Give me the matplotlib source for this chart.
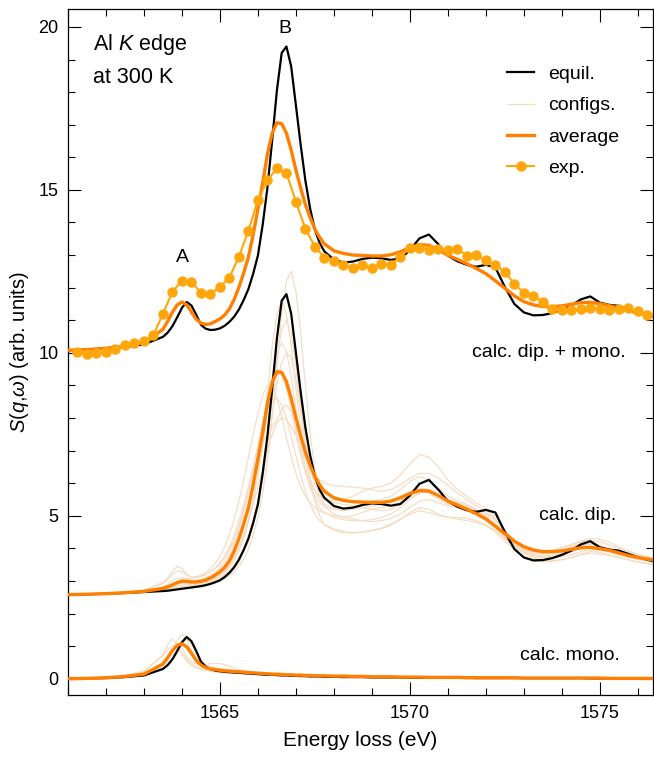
import numpy as np
import matplotlib
matplotlib.use("Agg")
from matplotlib import pyplot as plt
from matplotlib.ticker import MultipleLocator

plt.rcParams['font.family'] = ['Liberation Sans', 'DejaVu Sans']
plt.rcParams['mathtext.fontset'] = 'custom'
plt.rcParams['mathtext.rm'] = 'Liberation Sans'
plt.rcParams['mathtext.it'] = 'Liberation Sans:italic'

# energy grid of the calculated spectra, finer around the edge
energy = np.concatenate([np.arange(1561.0, 1563.01, 0.5),
                         np.arange(1563.5, 1567.76, 0.125),
                         np.arange(1568.0, 1576.51, 0.25)])

# dipole part, as drawn (shifted up by 2.5)
dip_equil = [2.58, 2.59, 2.61, 2.63, 2.66,
             2.69, 2.70, 2.72, 2.74, 2.76, 2.78, 2.80, 2.82, 2.84, 2.87,
             2.91, 2.96, 3.02, 3.12, 3.25, 3.42, 3.65, 3.95, 4.30, 4.78,
             5.35, 6.30, 7.45, 8.90, 10.45, 11.6, 11.8, 11.2, 10.0, 8.8,
             7.70, 6.85, 6.20, 5.80, 5.55,
             5.30, 5.22, 5.25, 5.33, 5.38, 5.36, 5.31, 5.36, 5.62, 5.98, 6.10, 5.80,
             5.45, 5.28, 5.17, 5.12, 5.18, 5.10, 4.50, 3.98, 3.72, 3.63, 3.64, 3.70,
             3.80, 3.93, 4.12, 4.22, 4.03, 3.96, 3.93, 3.83, 3.73, 3.65, 3.58]
dip_avg = [2.58, 2.59, 2.61, 2.64, 2.68,
           2.77, 2.82, 2.88, 2.95, 2.99, 2.99, 2.97, 2.97, 2.99, 3.03,
           3.09, 3.18, 3.28, 3.42, 3.62, 3.92, 4.30, 4.75, 5.25, 5.95,
           6.75, 7.55, 8.45, 9.10, 9.42, 9.40, 9.12, 8.60, 8.00, 7.45,
           6.95, 6.55, 6.20, 5.95, 5.75,
           5.55, 5.47, 5.43, 5.42, 5.41, 5.41, 5.45, 5.55, 5.68, 5.77, 5.76, 5.62,
           5.45, 5.33, 5.20, 5.06, 4.90, 4.68, 4.45, 4.22, 4.05, 3.95, 3.90, 3.90,
           3.92, 3.97, 4.02, 4.03, 3.99, 3.94, 3.86, 3.78, 3.72, 3.67, 3.63]

# monopole part
mono_equil = [0.0, 0.01, 0.02, 0.05, 0.10,
              0.30, 0.42, 0.60, 0.85, 1.12, 1.28, 1.15, 0.85, 0.52, 0.37,
              0.29, 0.25, 0.23, 0.21, 0.20, 0.19, 0.18, 0.17, 0.16, 0.15,
              0.14, 0.13, 0.12, 0.12, 0.11, 0.10, 0.10, 0.09, 0.09, 0.08,
              0.08, 0.07, 0.07, 0.07, 0.06,
              0.06, 0.05, 0.05, 0.05, 0.04, 0.04, 0.04, 0.04, 0.03, 0.03, 0.03, 0.03,
              0.03, 0.03, 0.03, 0.02, 0.02, 0.02, 0.02, 0.02, 0.02, 0.02, 0.02, 0.02,
              0.02, 0.02, 0.02, 0.01, 0.01, 0.01, 0.01, 0.01, 0.01, 0.01, 0.01]
mono_avg = [0.0, 0.01, 0.03, 0.07, 0.14,
            0.45, 0.65, 0.87, 1.02, 1.07, 0.98, 0.78, 0.56, 0.42, 0.34,
            0.30, 0.28, 0.26, 0.24, 0.23, 0.22, 0.21, 0.20, 0.19, 0.18,
            0.17, 0.16, 0.15, 0.14, 0.14, 0.13, 0.12, 0.12, 0.11, 0.11,
            0.10, 0.10, 0.09, 0.09, 0.09,
            0.08, 0.08, 0.07, 0.07, 0.06, 0.06, 0.06, 0.05, 0.05, 0.05, 0.04, 0.04,
            0.04, 0.04, 0.03, 0.03, 0.03, 0.03, 0.03, 0.03, 0.02, 0.02, 0.02, 0.02,
            0.02, 0.02, 0.02, 0.02, 0.02, 0.01, 0.01, 0.01, 0.01, 0.01, 0.01]

# single configurations, dipole part from 1563 eV on (energy[4:])
dip_configs = [
    [2.66, 2.70, 2.71, 2.73, 2.75, 2.77, 2.79, 2.81, 2.83, 2.85, 2.88,
     2.91, 2.95, 3.00, 3.07, 3.16, 3.28, 3.45, 3.68, 3.98, 4.40,
     4.95, 5.70, 6.70, 8.00, 9.60, 11.2, 12.2, 12.5, 11.9, 10.6,
     9.00, 7.50, 6.40, 5.70, 5.30,
     5.05, 4.95, 5.00, 5.10, 5.20, 5.25, 5.30, 5.45, 5.70, 5.85, 5.80, 5.60,
     5.40, 5.25, 5.15, 5.10, 5.05, 5.00, 4.60, 4.15, 3.85, 3.70, 3.65, 3.70,
     3.78, 3.90, 4.05, 4.15, 4.05, 3.95, 3.90, 3.80, 3.70, 3.62, 3.55],
    [2.67, 2.72, 2.74, 2.77, 2.80, 2.82, 2.84, 2.86, 2.88, 2.90, 2.93,
     2.97, 3.02, 3.10, 3.20, 3.33, 3.50, 3.72, 4.00, 4.35, 4.85,
     5.50, 6.35, 7.40, 8.60, 9.80, 10.7, 11.0, 10.6, 9.60, 8.40,
     7.30, 6.50, 5.95, 5.65, 5.50,
     5.45, 5.50, 5.60, 5.75, 5.85, 5.90, 6.00, 6.25, 6.60, 6.88, 6.80, 6.50,
     6.10, 5.80, 5.60, 5.40, 5.20, 4.90, 4.55, 4.20, 4.00, 3.90, 3.85, 3.88,
     3.95, 4.05, 4.15, 4.20, 4.10, 4.00, 3.90, 3.82, 3.75, 3.70, 3.65],
    [2.68, 2.74, 2.77, 2.81, 2.85, 2.88, 2.89, 2.90, 2.92, 2.95, 2.99,
     3.04, 3.11, 3.20, 3.33, 3.50, 3.73, 4.02, 4.40, 4.90, 5.50,
     6.25, 7.15, 8.20, 9.25, 10.0, 10.3, 10.05, 9.30, 8.30, 7.30,
     6.50, 5.95, 5.60, 5.40, 5.28,
     5.20, 5.15, 5.20, 5.25, 5.30, 5.35, 5.45, 5.60, 5.75, 5.80, 5.70, 5.50,
     5.35, 5.30, 5.25, 5.15, 5.00, 4.75, 4.45, 4.15, 3.95, 3.80, 3.75, 3.80,
     3.85, 3.95, 4.00, 4.00, 3.95, 3.88, 3.80, 3.72, 3.66, 3.62, 3.58],
    [2.72, 2.95, 3.10, 3.30, 3.45, 3.38, 3.20, 3.12, 3.12, 3.15, 3.20,
     3.28, 3.38, 3.52, 3.70, 3.95, 4.28, 4.70, 5.20, 5.80, 6.45,
     7.15, 7.90, 8.60, 9.20, 9.50, 9.35, 8.90, 8.25, 7.50, 6.85,
     6.35, 6.00, 5.75, 5.60, 5.50,
     5.40, 5.35, 5.30, 5.25, 5.20, 5.15, 5.20, 5.35, 5.55, 5.70, 5.75, 5.65,
     5.50, 5.40, 5.30, 5.15, 4.95, 4.65, 4.35, 4.10, 3.95, 3.88, 3.88, 3.92,
     4.00, 4.10, 4.20, 4.25, 4.20, 4.10, 4.00, 3.90, 3.80, 3.72, 3.66],
    [2.69, 2.78, 2.83, 2.90, 2.98, 3.05, 3.08, 3.08, 3.10, 3.14, 3.20,
     3.28, 3.40, 3.56, 3.78, 4.05, 4.40, 4.85, 5.35, 5.90, 6.50,
     7.15, 7.75, 8.25, 8.55, 8.60, 8.40, 8.00, 7.45, 6.85, 6.25,
     5.75, 5.35, 5.05, 4.85, 4.72,
     4.60, 4.52, 4.48, 4.50, 4.55, 4.62, 4.75, 4.90, 5.05, 5.15, 5.10, 5.00,
     4.95, 4.95, 4.92, 4.85, 4.72, 4.55, 4.30, 4.05, 3.85, 3.72, 3.65, 3.62,
     3.65, 3.72, 3.80, 3.85, 3.82, 3.78, 3.72, 3.65, 3.58, 3.54, 3.50],
    [2.67, 2.72, 2.74, 2.76, 2.79, 2.82, 2.84, 2.86, 2.89, 2.92, 2.96,
     3.01, 3.08, 3.17, 3.30, 3.48, 3.72, 4.02, 4.40, 4.85, 5.35,
     5.90, 6.45, 7.00, 7.50, 7.85, 8.00, 7.95, 7.75, 7.45, 7.10,
     6.80, 6.50, 6.28, 6.10, 6.00,
     5.92, 5.90, 5.88, 5.85, 5.80, 5.75, 5.80, 5.95, 6.15, 6.30, 6.30, 6.15,
     5.95, 5.70, 5.50, 5.30, 5.10, 4.85, 4.55, 4.25, 4.05, 3.95, 3.92, 3.95,
     4.02, 4.12, 4.22, 4.30, 4.28, 4.18, 4.05, 3.92, 3.82, 3.75, 3.68],
    [2.72, 2.92, 3.05, 3.20, 3.30, 3.28, 3.18, 3.12, 3.13, 3.18, 3.26,
     3.38, 3.54, 3.76, 4.05, 4.42, 4.88, 5.45, 6.10, 6.80, 7.50,
     8.15, 8.70, 9.00, 8.95, 8.60, 8.05, 7.40, 6.80, 6.30, 5.90,
     5.60, 5.40, 5.25, 5.15, 5.08,
     5.00, 4.95, 4.90, 4.85, 4.82, 4.85, 4.92, 5.05, 5.25, 5.45, 5.50, 5.40,
     5.30, 5.25, 5.20, 5.10, 4.90, 4.60, 4.30, 4.05, 3.88, 3.78, 3.72, 3.72,
     3.75, 3.80, 3.90, 3.95, 3.95, 3.90, 3.82, 3.75, 3.68, 3.62, 3.58],
    [2.66, 2.70, 2.72, 2.74, 2.76, 2.78, 2.80, 2.82, 2.84, 2.86, 2.89,
     2.93, 2.98, 3.05, 3.14, 3.27, 3.45, 3.68, 3.98, 4.36, 4.85,
     5.45, 6.20, 7.10, 8.10, 9.05, 9.70, 10.0, 9.85, 9.20, 8.20,
     7.10, 6.15, 5.45, 5.00, 4.72,
     4.55, 4.48, 4.47, 4.50, 4.55, 4.60, 4.70, 4.88, 5.10, 5.25, 5.20, 5.05,
     4.95, 4.90, 4.85, 4.80, 4.70, 4.50, 4.22, 3.95, 3.75, 3.62, 3.58, 3.60,
     3.65, 3.72, 3.82, 3.90, 3.88, 3.80, 3.72, 3.65, 3.58, 3.53, 3.50],
    [2.68, 2.76, 2.80, 2.86, 2.90, 2.92, 2.92, 2.92, 2.93, 2.95, 2.98,
     3.02, 3.08, 3.16, 3.27, 3.42, 3.63, 3.92, 4.30, 4.80, 5.45,
     6.30, 7.40, 8.75, 10.2, 11.2, 11.6, 11.2, 10.2, 8.90, 7.70,
     6.80, 6.15, 5.75, 5.50, 5.35,
     5.25, 5.20, 5.25, 5.35, 5.45, 5.50, 5.60, 5.80, 6.05, 6.20, 6.10, 5.85,
     5.60, 5.45, 5.35, 5.20, 5.00, 4.70, 4.40, 4.12, 3.95, 3.85, 3.82, 3.85,
     3.92, 4.02, 4.10, 4.12, 4.05, 3.98, 3.90, 3.82, 3.74, 3.68, 3.63],
    [2.70, 2.82, 2.90, 3.00, 3.08, 3.10, 3.06, 3.02, 3.02, 3.05, 3.10,
     3.17, 3.27, 3.40, 3.58, 3.82, 4.15, 4.58, 5.10, 5.70, 6.30,
     6.85, 7.25, 7.50, 7.70, 7.95, 8.25, 8.40, 8.20, 7.70, 7.00,
     6.35, 5.85, 5.50, 5.25, 5.10,
     4.95, 4.88, 4.85, 4.85, 4.88, 4.95, 5.05, 5.25, 5.50, 5.70, 5.75, 5.65,
     5.50, 5.40, 5.30, 5.15, 4.95, 4.68, 4.38, 4.10, 3.90, 3.80, 3.75, 3.76,
     3.82, 3.90, 3.98, 4.02, 4.00, 3.95, 3.88, 3.80, 3.72, 3.66, 3.60],
]

# single configurations, monopole part 1562.5-1566.5 eV (energy[3:30])
mono_configs = [
    [0.09, 0.20, 0.74, 1.04, 1.22, 1.05, 0.76, 0.54, 0.40, 0.33, 0.28, 0.25, 0.23, 0.20,
     0.19, 0.18, 0.17, 0.17, 0.16, 0.15, 0.15, 0.13, 0.13, 0.12, 0.12, 0.11, 0.11],
    [0.08, 0.15, 0.40, 0.57, 0.84, 1.18, 1.38, 1.20, 0.87, 0.62, 0.46, 0.37, 0.31, 0.27,
     0.24, 0.22, 0.20, 0.19, 0.18, 0.16, 0.16, 0.14, 0.14, 0.13, 0.12, 0.11, 0.11],
    [0.07, 0.14, 0.42, 0.58, 0.82, 1.07, 0.93, 0.68, 0.52, 0.45, 0.43, 0.44, 0.46, 0.47,
     0.46, 0.43, 0.38, 0.33, 0.28, 0.24, 0.21, 0.19, 0.17, 0.16, 0.15, 0.14, 0.13],
    [0.10, 0.24, 0.70, 0.88, 1.02, 0.98, 0.80, 0.60, 0.45, 0.36, 0.31, 0.29, 0.28, 0.28,
     0.27, 0.26, 0.24, 0.22, 0.20, 0.19, 0.18, 0.16, 0.15, 0.14, 0.13, 0.12, 0.12],
    [0.06, 0.11, 0.30, 0.40, 0.56, 0.80, 1.07, 1.23, 1.07, 0.79, 0.57, 0.44, 0.36, 0.33,
     0.31, 0.30, 0.28, 0.26, 0.24, 0.21, 0.19, 0.17, 0.16, 0.15, 0.14, 0.13, 0.12],
]

# experiment (already on the dip. + mono. scale)
exp_energy = np.arange(1561.25, 1576.26, 0.25)
exp_vals = [10.02, 9.97, 9.98, 10.02, 10.12, 10.25, 10.30, 10.35, 10.55, 11.20,
            11.88, 12.21, 12.17, 11.85, 11.81, 12.03, 12.31, 12.95, 13.75, 14.69,
            15.30, 15.66, 15.51, 14.64, 13.80, 13.26, 12.92, 12.82, 12.70, 12.60,
            12.68, 12.59, 12.73, 12.70, 12.95, 13.21, 13.23, 13.16, 13.18, 13.14,
            13.18, 12.98, 13.00, 12.85, 12.68, 12.49, 12.11, 11.85, 11.73, 11.57,
            11.34, 11.30, 11.30, 11.34, 11.37, 11.34, 11.32, 11.34, 11.37, 11.27,
            11.17]

# dip. + mono. curve sits 7.5 above the shifted dipole curve
top_equil = np.array(dip_equil) + np.array(mono_equil) + 7.5
top_avg = np.array(dip_avg) + np.array(mono_avg) + 7.5

black = 'black'
orange = '#ff7f00'
exp_col = '#ffa60d'
cfg_col = '#f4dcc3'

fig = plt.figure(figsize=(6.54, 7.58), dpi=100)
ax = fig.add_axes([68/654, 1 - 695/758, 585/654, 686/758])

for i, c in enumerate(dip_configs):
    ax.plot(energy[4:], c, color=cfg_col, lw=0.85, zorder=1,
            label='configs.' if i == 0 else None)
for m in mono_configs:
    ax.plot(energy[3:30], m, color=cfg_col, lw=0.85, zorder=1)

ax.plot(energy, top_equil, color=black, lw=1.6, zorder=3, label='equil.')
ax.plot(energy, dip_equil, color=black, lw=1.6, zorder=3)
ax.plot(energy, mono_equil, color=black, lw=1.6, zorder=3)
ax.plot(energy, top_avg, color=orange, lw=2.4, zorder=4, label='average')
ax.plot(energy, dip_avg, color=orange, lw=2.4, zorder=4)
ax.plot(energy, mono_avg, color=orange, lw=2.4, zorder=4)
ax.plot(exp_energy, exp_vals, '-o', color=exp_col, lw=1.5, ms=6.5, zorder=5,
        label='exp.')

ax.set_xlim(1561, 1576.4)
ax.set_ylim(-0.5, 20.55)
ax.set_xticks([1565, 1570, 1575])
ax.xaxis.set_minor_locator(MultipleLocator(1))
ax.set_yticks([0, 5, 10, 15, 20])
ax.yaxis.set_minor_locator(MultipleLocator(1))
ax.tick_params(which='both', direction='in', top=True, right=True,
               labelsize=13, width=0.8)
ax.tick_params(which='major', length=9.5, pad=7)
ax.tick_params(which='minor', length=5)
for s in ax.spines.values():
    s.set_linewidth(0.9)

ax.set_xlabel('Energy loss (eV)', fontsize=15, labelpad=7)
ax.set_ylabel(r'$S$($q$,$\omega$) (arb. units)', fontsize=14.5, labelpad=5)

ax.text(0.043, 0.940, r'Al $K$ edge', transform=ax.transAxes, fontsize=15.5)
ax.text(0.043, 0.892, 'at 300 K', transform=ax.transAxes, fontsize=15.5)
ax.text(1566.71, 19.82, 'B', ha='center', fontsize=14)
ax.text(1564.0, 12.79, 'A', ha='center', fontsize=14)
ax.text(1575.68, 9.88, 'calc. dip. + mono.', ha='right', fontsize=14)
ax.text(1575.42, 4.88, 'calc. dip.', ha='right', fontsize=14)
ax.text(1575.53, 0.58, 'calc. mono.', ha='right', fontsize=14)

h, l = ax.get_legend_handles_labels()
order = [l.index(n) for n in ['equil.', 'configs.', 'average', 'exp.']]
ax.legend([h[i] for i in order], [l[i] for i in order], loc='upper left',
          bbox_to_anchor=(0.737, 0.929), frameon=False, fontsize=14,
          handlelength=1.4, handletextpad=0.7, labelspacing=0.7,
          borderaxespad=0)

plt.savefig('out.png', dpi=100)
